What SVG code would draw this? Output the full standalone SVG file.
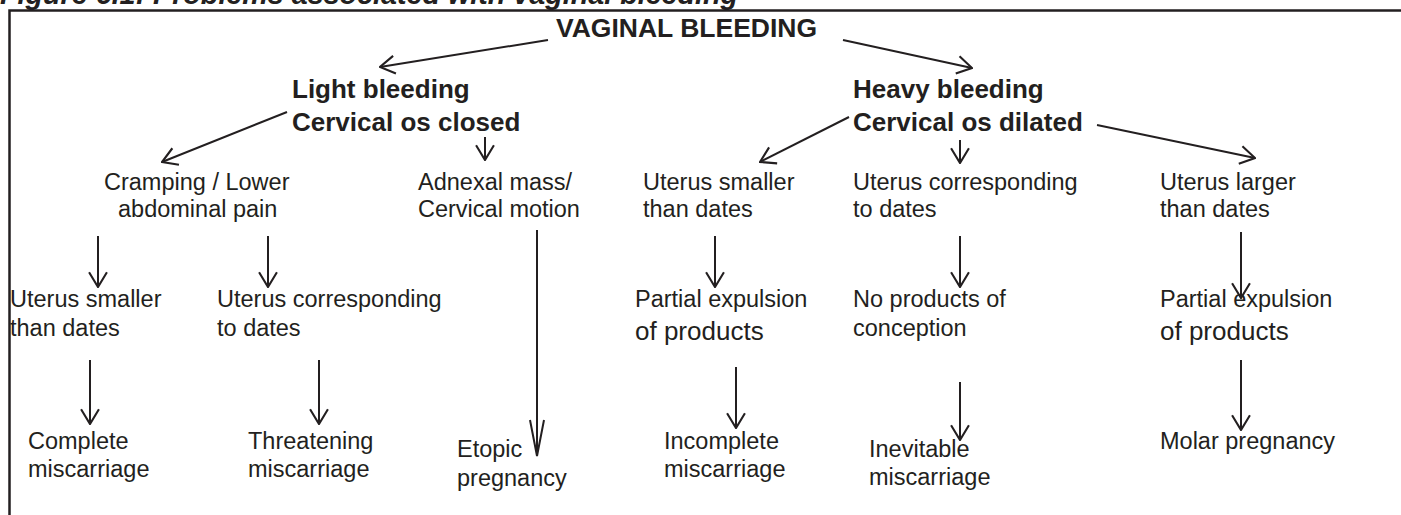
<svg xmlns="http://www.w3.org/2000/svg" width="1401" height="515" viewBox="0 0 1401 515">
<style>
text{font-family:"Liberation Sans",Arial,sans-serif;fill:#231f20}
.t{font-size:23.5px}
.tb{font-size:26px}
.b{font-size:26px;font-weight:bold}
.h{font-size:26.5px;font-weight:bold}
.title{font-size:28.7px;font-weight:bold;font-style:italic}
.c line{stroke:#231f20;stroke-width:2;marker-end:url(#ah)}
.c line.long{marker-end:url(#ahl)}
</style>
<defs>
<marker id="ah" viewBox="0 0 20 20" refX="19" refY="10" markerWidth="21" markerHeight="21" markerUnits="userSpaceOnUse" orient="auto"><path d="M5,1.5 L19,10 L5,18.5" fill="none" stroke="#231f20" stroke-width="2"/></marker>
<marker id="ahl" viewBox="0 0 40 20" refX="39" refY="10" markerWidth="40" markerHeight="20" markerUnits="userSpaceOnUse" orient="auto"><path d="M3,3 L39,10 L3,17" fill="none" stroke="#231f20" stroke-width="2"/></marker>
</defs>
<rect width="1401" height="515" fill="#fff"/>
<text class="title" x="0" y="4">Figure 6.1: Problems associated with vaginal bleeding</text>
<path d="M9.5,515 V10.5 H1401" fill="none" stroke="#231f20" stroke-width="2.5"/>
<g class="c" id="connectors">
<line x1="548" y1="40" x2="380" y2="67"/>
<line x1="843" y1="40" x2="972" y2="68"/>
<line x1="287" y1="112" x2="162" y2="162"/>
<line x1="485" y1="137" x2="485" y2="160"/>
<line x1="849" y1="117" x2="760" y2="162"/>
<line x1="960" y1="140" x2="960" y2="163"/>
<line x1="1097" y1="125" x2="1255" y2="158"/>
<line x1="98" y1="236" x2="98" y2="287"/>
<line x1="268" y1="236" x2="268" y2="287"/>
<line class="long" x1="537" y1="230" x2="537" y2="456"/>
<line x1="715" y1="236" x2="715" y2="287"/>
<line x1="960" y1="236" x2="960" y2="287"/>
<line x1="1241" y1="232" x2="1241" y2="298"/>
<line x1="90" y1="360" x2="90" y2="424"/>
<line x1="319" y1="360" x2="319" y2="424"/>
<line x1="736" y1="367" x2="736" y2="428"/>
<line x1="960" y1="382" x2="960" y2="440"/>
<line x1="1241" y1="360" x2="1241" y2="430"/>
</g>
<g id="root"><text class="h" x="556" y="37">VAGINAL BLEEDING</text></g>
<g id="light"><text class="b" x="292" y="98">Light bleeding</text><text class="b" x="292" y="131">Cervical os closed</text></g>
<g id="heavy"><text class="b" x="853" y="98">Heavy bleeding</text><text class="b" x="853" y="131">Cervical os dilated</text></g>
<g id="cramping"><text class="t" x="104" y="190">Cramping / Lower</text><text class="t" x="118" y="217">abdominal pain</text></g>
<g id="adnexal"><text class="t" x="418" y="190">Adnexal mass/</text><text class="t" x="418" y="217">Cervical motion</text></g>
<g id="h-smaller"><text class="t" x="643" y="190">Uterus smaller</text><text class="t" x="643" y="217">than dates</text></g>
<g id="h-corr"><text class="t" x="853" y="190">Uterus corresponding</text><text class="t" x="853" y="217">to dates</text></g>
<g id="h-larger"><text class="t" x="1160" y="190">Uterus larger</text><text class="t" x="1160" y="217">than dates</text></g>
<g id="l-smaller"><text class="t" x="10" y="307">Uterus smaller</text><text class="t" x="10" y="336">than dates</text></g>
<g id="l-corr"><text class="t" x="217" y="307">Uterus corresponding</text><text class="t" x="217" y="336">to dates</text></g>
<g id="partial1"><text class="t" x="635" y="307">Partial expulsion</text><text class="tb" x="635" y="340">of products</text></g>
<g id="noproducts"><text class="t" x="853" y="307">No products of</text><text class="t" x="853" y="336">conception</text></g>
<g id="partial2"><text class="t" x="1160" y="307">Partial expulsion</text><text class="tb" x="1160" y="340">of products</text></g>
<g id="complete"><text class="t" x="28" y="449">Complete</text><text class="t" x="28" y="477">miscarriage</text></g>
<g id="threatening"><text class="t" x="248" y="449">Threatening</text><text class="t" x="248" y="477">miscarriage</text></g>
<g id="etopic"><text class="t" x="457" y="457">Etopic</text><text class="t" x="457" y="486">pregnancy</text></g>
<g id="incomplete"><text class="t" x="664" y="449">Incomplete</text><text class="t" x="664" y="477">miscarriage</text></g>
<g id="inevitable"><text class="t" x="869" y="457">Inevitable</text><text class="t" x="869" y="485">miscarriage</text></g>
<g id="molar"><text class="t" x="1160" y="449">Molar pregnancy</text></g>
</svg>
